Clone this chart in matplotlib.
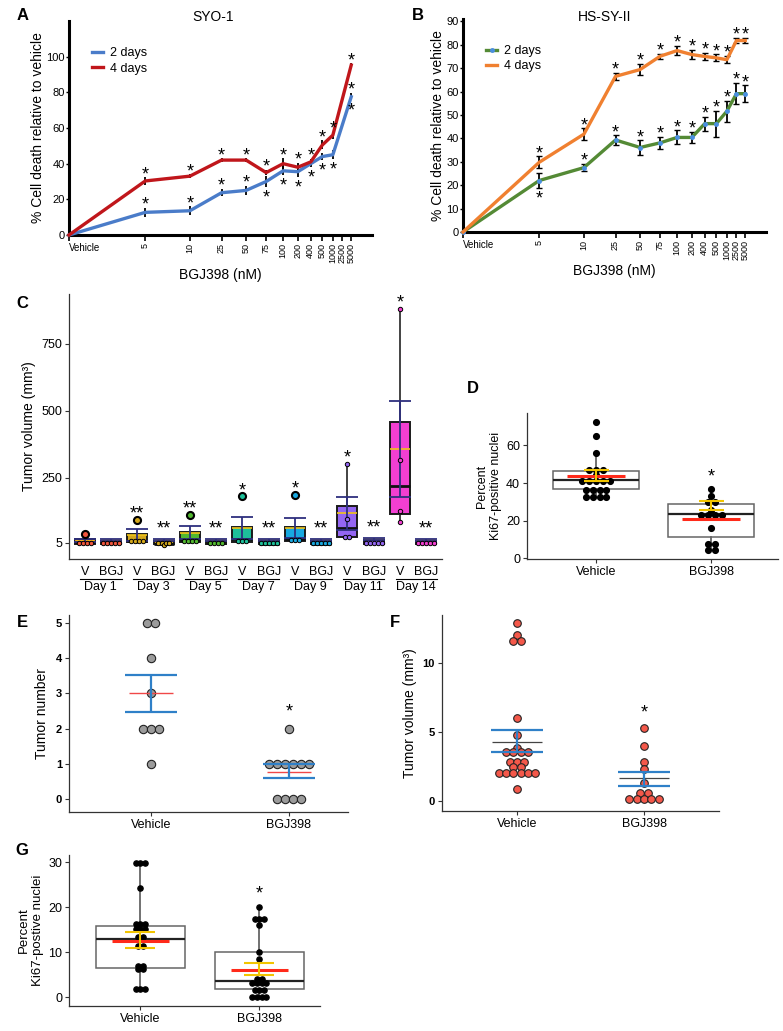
import numpy as np
import matplotlib.pyplot as plt
from matplotlib.transforms import blended_transform_factory

W, H = 783, 1031
plt.rcParams['font.family'] = ['Liberation Sans', 'DejaVu Sans']

# ---------------- data ----------------
doses = ['Vehicle', '5', '10', '25', '50', '75', '100', '200', '400', '500', '1000', '2500', '5000']

# panel A (SYO-1), no point at 2500
a_idx = [0, 1, 2, 3, 4, 5, 6, 7, 8, 9, 10, 12]
a_2d = [0, 12.7, 13.6, 23.7, 25, 30, 36, 35.5, 40, 44, 45, 77.5]
a_2d_err = [0, 2.5, 2.5, 2, 2.5, 3, 2.5, 3, 2, 2, 2.5, 2]
a_2d_star = ['', 'a', 'a', 'a', 'a', 'b', 'b', 'b', 'b', 'b', 'b', 'ab']
a_4d = [0, 30.3, 33, 42, 42, 35, 40, 38, 41, 50.5, 56, 95.3]
a_4d_err = [0, 2, 1, 1, 1, 1.5, 3, 2.5, 1.5, 2.5, 2, 1]
a_4d_star = ['', 'a', 'a', 'a', 'a', 'a', 'a', 'a', 'a', 'a', 'a', 'a']

# panel B (HS-SY-II)
b_idx = list(range(13))
b_2d = [0, 22, 27.5, 39.3, 36.1, 38.1, 40.4, 40.4, 46.3, 46.3, 51.6, 59.1, 59.1]
b_2d_err = [0, 3.2, 1.5, 2, 3, 2.5, 3, 2.5, 3, 5.5, 4.5, 4.5, 3.5]
b_2d_star = ['', 'b', 'a', 'a', 'a', 'a', 'a', 'a', 'a', 'a', 'a', 'a', 'a']
b_4d = [0, 29.8, 41.8, 66.5, 69.4, 75.1, 77.5, 75.8, 75, 74.4, 73.6, 81.8, 81.8]
b_4d_err = [0, 2.5, 2.5, 1.5, 2.5, 1, 2, 2, 1.5, 1.5, 1.5, 1, 1]
b_4d_star = ['', 'a', 'a', 'a', 'a', 'a', 'a', 'a', 'a', 'a', 'a', 'a', 'a']

# panel C (tumor volume over time)
c_days = ['Day 1', 'Day 3', 'Day 5', 'Day 7', 'Day 9', 'Day 11', 'Day 14']
c_colors = ['#F0553C', '#D4A81C', '#52B830', '#1DC09A', '#18A8E0', '#9466F2', '#F23FD2']
c_v_q1 = [3, 8, 8, 10, 12, 27, 114]
c_v_med = [8, 14, 15, 18, 20, 62, 219]
c_v_q3 = [18, 38, 45, 63, 63, 145, 456]
c_v_lo = [2, 5, 5, 8, 10, 22, 83]
c_v_hi = [18, 40, 45, 63, 63, 300, 880]
c_v_fliers = [[38], [92], [109], [179], [184], [], []]
c_v_mean = [14, 35, 44, 60, 62, 116, 357]
c_v_sd = [4, 22, 26, 42, 37, 62, 180]
c_v_pts = [[5, 5, 5, 5], [14, 14, 14, 14], [14, 14, 14, 14], [13, 13, 13],
           [17, 17, 17], [300, 94, 27, 27], [880, 316, 123, 83]]
c_v_star = ['', '**', '**', '*', '*', '*', '*']
c_b_q1 = [0, 0, 0, 0, 0, 0, 0]
c_b_med = [4, 3, 4, 3, 3, 5, 4]
c_b_q3 = [14, 13, 14, 13, 14, 16, 14]
c_b_mean = [16, 15, 16, 15, 16, 19, 16]
c_b_sd = [4, 4, 4, 4, 4, 4, 4]
c_b_pts = [[5, 5, 5, 5, 5], [5, 5, -4, 5, 5], [5, 5, 5, 5], [5, 5, 5, 5, 5],
           [5, 5, 5, 5, 5], [5, 5, 5, 5, 5], [5, 5, 5, 5, 5]]
c_b_star = ['', '**', '**', '**', '**', '**', '**']

groups = ['Vehicle', 'BGJ398']

# panel D (Ki67)
d_q1 = [37, 11.5]
d_med = [41.5, 23.5]
d_q3 = [46.5, 28.8]
d_lo = [32.5, 4.4]
d_hi = [56, 36.9]
d_mean = [44, 21]
d_err_c = [43.9, 28.3]
d_err = [2.9, 2.35]
d_pts = [[72.5, 65, 56, 47, 47, 47, 44.5, 41, 41, 41, 41, 41, 36.5, 36.5, 36.5, 36.5,
          32.5, 32.5, 32.5, 32.5],
         [36.9, 33, 29.8, 29.8, 25.5, 23, 23, 23, 23, 15.9, 7.8, 7.8, 4.4, 4.4]]

# panel E (tumor number)
e_pts = [[5, 5, 4, 3, 2, 2, 2, 1], [2, 1, 1, 1, 1, 1, 1, 0, 0, 0, 0]]
e_mean = [3.0, 0.77]
e_err_c = [3.0, 0.8]
e_err = [0.515, 0.2]

# panel F (tumor volume)
f_pts = [[12.9, 12.0, 11.6, 11.6, 6.0, 4.8, 3.87, 3.55, 3.55, 3.55, 3.55, 2.85, 2.85, 2.85,
          2.45, 2.45, 2.0, 2.0, 2.0, 2.0, 2.0, 2.0, 0.85],
         [5.3, 4.0, 2.8, 2.3, 1.3, 0.55, 0.55, 0.15, 0.15, 0.15, 0.15, 0.15]]
f_mean = [4.3, 1.65]
f_err_c = [4.36, 1.6]
f_err = [0.79, 0.5]

# panel G (Ki67)
g_q1 = [6.5, 1.8]
g_med = [13, 3.6]
g_q3 = [15.8, 10]
g_lo = [1.9, 0]
g_hi = [29.8, 20]
g_mean = [12.5, 6.1]
g_err_c = [12.8, 6.35]
g_err = [1.8, 1.35]
g_pts = [[29.8, 29.8, 29.8, 24.2, 16.3, 16.3, 16.3, 15.1, 15.1, 15.1, 13.3, 13.3, 11.3, 11.3,
          7.0, 7.0, 6.3, 6.3, 1.9, 1.9, 1.9],
         [20, 17.3, 17.3, 17.3, 16.1, 10, 8.4, 4, 4, 3.1, 3.1, 3.1, 3.1, 1.6, 1.6, 1.6, 0, 0, 0, 0]]

# ---------------- helpers ----------------
fig = plt.figure(figsize=(W / 100, H / 100), dpi=100)


def add_ax(left, top, right, bottom):
    return fig.add_axes([left / W, 1 - bottom / H, (right - left) / W, (bottom - top) / H])


def swarm(center, values, step):
    vals = np.asarray(values, dtype=float)
    xs = np.zeros(len(vals))
    for v in np.unique(vals):
        idx = np.where(vals == v)[0]
        xs[idx] = center + (np.arange(len(idx)) - (len(idx) - 1) / 2) * step
    return xs


def star(ax, x, y, txt, off, size=13):
    ax.annotate(txt, (x, y), xytext=(0, off), textcoords='offset points',
                ha='center', va='center', fontsize=size, annotation_clip=False)


def panel_letter(x, y, s):
    fig.text(x / W, 1 - y / H, s, fontsize=12, fontweight='bold', ha='left', va='top')


def thin_axes(ax):
    for s in ['top', 'right']:
        ax.spines[s].set_visible(False)
    for s in ['left', 'bottom']:
        ax.spines[s].set_linewidth(0.9)
        ax.spines[s].set_color('#333333')
    ax.tick_params(length=3, width=0.8, color='#333333', pad=2)


def dose_axes(ax, ymax, yticks):
    ax.set_xscale('function', functions=(np.log1p, np.expm1))
    ax.set_xlim(0, 14.7)
    ax.set_ylim(0, ymax)
    for s in ['top', 'right']:
        ax.spines[s].set_visible(False)
    for s in ['left', 'bottom']:
        ax.spines[s].set_linewidth(2.2)
    ax.set_xticks(range(13))
    ax.set_xticklabels(doses, fontsize=6.5)
    for i, lbl in enumerate(ax.get_xticklabels()):
        if i == 0:
            lbl.set_ha('left')
            lbl.set_fontsize(7)
        else:
            lbl.set_rotation(90)
            lbl.set_va('top')
    ax.tick_params(axis='x', length=4, width=1.2, pad=2)
    ax.set_yticks(yticks)
    ax.tick_params(axis='y', length=2, width=1, labelsize=8, pad=1)
    ax.set_xlabel('BGJ398 (nM)', fontsize=10, labelpad=3)
    ax.set_ylabel('% Cell death relative to vehicle', fontsize=10, labelpad=1)


def dose_series(ax, xs, ys, errs, marks, color, label, capsize=0, marker=None):
    ax.errorbar(xs[1:], ys[1:], yerr=errs[1:], fmt='none', ecolor='black',
                elinewidth=1.3, capsize=capsize, capthick=1, zorder=2)
    ax.plot(xs, ys, color=color, lw=2.4, zorder=3, clip_on=False, label=label,
            marker=marker, markersize=2.5, markerfacecolor='#4A8FE0', markeredgecolor='#4A8FE0')
    for x, y, e, m in zip(xs, ys, errs, marks):
        if 'a' in m:
            star(ax, x, y + e, '*', 2.0)
        if 'b' in m:
            star(ax, x, y - e, '*', -7.7)


# ---------------- panel A ----------------
axA = add_ax(69, 21, 372, 235)
dose_axes(axA, 120, [0, 20, 40, 60, 80, 100])
dose_series(axA, a_idx, a_2d, a_2d_err, a_2d_star, '#4A7CC9', '2 days')
dose_series(axA, a_idx, a_4d, a_4d_err, a_4d_star, '#C0161B', '4 days')
axA.legend(loc='upper left', bbox_to_anchor=(0.06, 0.9), frameon=False, fontsize=9,
           handlelength=0.9, handletextpad=0.5, labelspacing=0.25, borderaxespad=0)
fig.text(213 / W, 1 - 17 / H, 'SYO-1', fontsize=10, ha='center', va='center')
panel_letter(17, 8, 'A')

# ---------------- panel B ----------------
axB = add_ax(463, 19, 766, 232)
dose_axes(axB, 91, list(range(0, 91, 10)))
dose_series(axB, b_idx, b_2d, b_2d_err, b_2d_star, '#548A35', '2 days', capsize=2, marker='o')
dose_series(axB, b_idx, b_4d, b_4d_err, b_4d_star, '#F08030', '4 days', capsize=2)
axB.legend(loc='upper left', bbox_to_anchor=(0.06, 0.9), frameon=False, fontsize=9,
           handlelength=0.9, handletextpad=0.5, labelspacing=0.25, borderaxespad=0)
fig.text(605 / W, 1 - 17 / H, 'HS-SY-II', fontsize=10, ha='center', va='center')
panel_letter(412, 8, 'B')

# ---------------- panel C ----------------
axC = add_ax(69, 294, 442, 559)
thin_axes(axC)
stats, pos, cols = [], [], []
for i in range(7):
    stats.append(dict(med=c_v_med[i], q1=c_v_q1[i], q3=c_v_q3[i], whislo=c_v_lo[i],
                      whishi=c_v_hi[i], fliers=[]))
    stats.append(dict(med=c_b_med[i], q1=c_b_q1[i], q3=c_b_q3[i], whislo=c_b_q1[i],
                      whishi=c_b_q3[i], fliers=[]))
    pos += [2 * i, 2 * i + 1]
    cols += [c_colors[i], c_colors[i]]
bp = axC.bxp(stats, positions=pos, widths=0.76, patch_artist=True, showfliers=False,
             showcaps=False, boxprops=dict(edgecolor='#1a1a1a', linewidth=1.4),
             medianprops=dict(color='#111111', linewidth=2),
             whiskerprops=dict(color='#222222', linewidth=1.2))
for patch, c in zip(bp['boxes'], cols):
    patch.set_facecolor(c)
for i in range(7):
    xv, xb = 2 * i, 2 * i + 1
    axC.hlines([c_v_mean[i], c_b_mean[i]], [xv - 0.38, xb - 0.38], [xv + 0.38, xb + 0.38],
               color='#F2C418', lw=1.2, zorder=3.5)
    axC.errorbar([xv, xb], [c_v_mean[i], c_b_mean[i]], yerr=[c_v_sd[i], c_b_sd[i]], fmt='none',
                 ecolor='#2E2F7E', elinewidth=1.3, capsize=8, capthick=1.3, zorder=4)
    axC.scatter(swarm(xv, c_v_pts[i], 0.15), c_v_pts[i], s=10, color=c_colors[i],
                edgecolor='black', linewidth=0.7, zorder=5)
    axC.scatter(swarm(xb, c_b_pts[i], 0.15), c_b_pts[i], s=10, color=c_colors[i],
                edgecolor='black', linewidth=0.7, zorder=5)
    if c_v_fliers[i]:
        axC.scatter([xv] * len(c_v_fliers[i]), c_v_fliers[i], s=26, color=c_colors[i],
                    edgecolor='black', linewidth=1.5, zorder=5)
    v_top = max([c_v_hi[i]] + c_v_fliers[i] + c_v_pts[i])
    if c_v_star[i]:
        star(axC, xv, v_top, c_v_star[i], 4.3)
    if c_b_star[i]:
        star(axC, xb, c_b_mean[i] + c_b_sd[i], c_b_star[i], 7.1)
axC.set_xlim(-0.6, 13.6)
axC.set_ylim(-55, 937)
axC.set_yticks([5, 250, 500, 750])
axC.set_xticks(pos)
axC.set_xticklabels(['V', 'BGJ'] * 7, fontsize=9)
axC.tick_params(axis='x', length=0, pad=5)
axC.tick_params(axis='y', labelsize=9)
axC.set_ylabel('Tumor volume (mm³)', fontsize=10, labelpad=4)
tr = blended_transform_factory(axC.transData, axC.transAxes)
for i, d in enumerate(c_days):
    axC.plot([2 * i - 0.17, 2 * i + 1.4], [-0.076, -0.076], color='black', lw=0.8,
             transform=tr, clip_on=False)
    axC.text(2 * i + 0.6, -0.106, d, fontsize=9, ha='center', va='center', transform=tr)
panel_letter(16, 296, 'C')


# ---------------- D / G box + dots ----------------
def box_dots(ax, q1, med, q3, lo, hi, pts, mean, err_c, err, step, s, mline, cap):
    st = [dict(med=med[i], q1=q1[i], q3=q3[i], whislo=lo[i], whishi=hi[i], fliers=[])
          for i in range(2)]
    bp = ax.bxp(st, positions=[0, 1], widths=0.75, patch_artist=True, showfliers=False,
                showcaps=False, boxprops=dict(edgecolor='#666666', linewidth=1.1),
                medianprops=dict(color='#222222', linewidth=1.6),
                whiskerprops=dict(color='#666666', linewidth=1.3))
    for p in bp['boxes']:
        p.set_facecolor('white')
    for i in range(2):
        ax.scatter(swarm(i, pts[i], step), pts[i], s=s, color='black', zorder=4)
    ax.hlines(mean, [-mline, 1 - mline], [mline, 1 + mline], color='#FF2A1A', lw=2.2, zorder=5)
    ax.errorbar([0, 1], err_c, yerr=err, fmt='none', ecolor='#F2C500', elinewidth=1.5,
                capsize=cap, capthick=1.5, zorder=6)
    ax.set_xticks([0, 1])
    ax.set_xticklabels(groups, fontsize=9)


axD = add_ax(527, 413, 778, 559)
thin_axes(axD)
box_dots(axD, d_q1, d_med, d_q3, d_lo, d_hi, d_pts, d_mean, d_err_c, d_err, 0.06, 17, 0.25, 9)
star(axD, 1, max(d_pts[1]), '*', 8.6)
axD.set_xlim(-0.6, 1.58)
axD.set_ylim(-0.3, 77.2)
axD.set_yticks([0, 20, 40, 60])
axD.tick_params(axis='y', labelsize=9)
axD.set_ylabel('Percent\nKi67-positive nuclei', fontsize=9, labelpad=3)
panel_letter(467, 381, 'D')

axG = add_ax(69, 855, 320, 1006)
thin_axes(axG)
box_dots(axG, g_q1, g_med, g_q3, g_lo, g_hi, g_pts, g_mean, g_err_c, g_err, 0.04, 14, 0.24, 11)
star(axG, 1, max(g_pts[1]), '*', 9.8)
axG.set_xlim(-0.6, 1.51)
axG.set_ylim(-1.93, 31.6)
axG.set_yticks([0, 10, 20, 30])
axG.tick_params(axis='y', labelsize=9)
axG.set_ylabel('Percent\nKi67-postive nuclei', fontsize=9.5, labelpad=3)
panel_letter(15, 843, 'G')


# ---------------- E / F dot plots ----------------
def dot_plot(ax, pts, mean, err_c, err, color, mcolor, mlw, mline, step, s):
    for i in range(2):
        ax.scatter(swarm(i, pts[i], step), pts[i], s=s, color=color, edgecolor='#222222',
                   linewidth=0.8, zorder=2)
    ax.hlines(mean, [-mline, 1 - mline], [mline, 1 + mline], color=mcolor, lw=mlw, zorder=3)
    ax.errorbar([0, 1], err_c, yerr=err, fmt='none', ecolor='#2F80C8', elinewidth=1.6,
                capsize=19, capthick=1.6, zorder=4)
    ax.set_xticks([0, 1])
    ax.set_xticklabels(groups, fontsize=9)
    for lbl in ax.get_yticklabels():
        lbl.set_fontweight('bold')


axE = add_ax(69, 615, 348, 812)
thin_axes(axE)
axE.set_xlim(-0.6, 1.43)
axE.set_ylim(-0.37, 5.23)
axE.set_yticks([0, 1, 2, 3, 4, 5])
axE.tick_params(axis='y', labelsize=8)
dot_plot(axE, e_pts, e_mean, e_err_c, e_err, '#9B9B9B', '#F04848', 1.0, 0.16, 0.058, 36)
star(axE, 1, max(e_pts[1]), '*', 12)
axE.set_ylabel('Tumor number', fontsize=10, labelpad=5)
panel_letter(17, 615, 'E')

axF = add_ax(442, 615, 719, 811)
thin_axes(axF)
axF.set_xlim(-0.59, 1.59)
axF.set_ylim(-0.72, 13.48)
axF.set_yticks([0, 5, 10])
axF.tick_params(axis='y', labelsize=8)
dot_plot(axF, f_pts, f_mean, f_err_c, f_err, '#F4584A', '#444444', 0.9, 0.2, 0.058, 30)
star(axF, 1, max(f_pts[1]), '*', 10.8)
axF.set_ylabel('Tumor volume (mm³)', fontsize=10, labelpad=4)
panel_letter(390, 615, 'F')

fig.savefig('out.png', dpi=100)
